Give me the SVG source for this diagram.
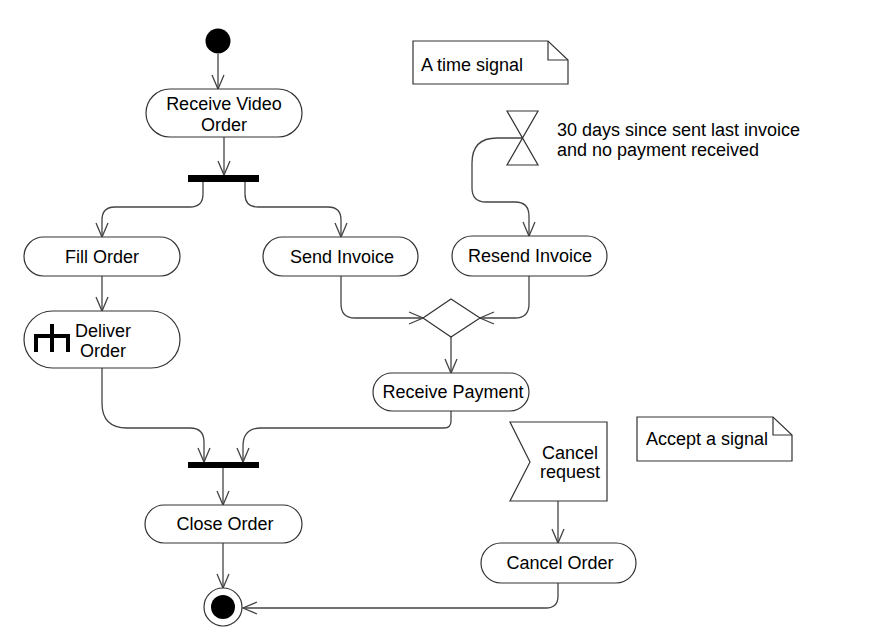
<svg xmlns="http://www.w3.org/2000/svg" width="875" height="633" viewBox="0 0 875 633">
<defs>
<marker id="arr" markerUnits="userSpaceOnUse" markerWidth="20" markerHeight="16" viewBox="-16 -8 18 16" refX="0" refY="0" orient="auto" overflow="visible">
<path d="M-14,-6 L0,0 L-14,6" fill="none" stroke="#444" stroke-width="1.3"/>
</marker>
<style>
.n{fill:#fff;stroke:#333;stroke-width:1.2}
.t{font-family:"Liberation Sans",Arial,sans-serif;font-size:18px;fill:#000}
.m{text-anchor:middle}
.c{fill:none;stroke:#444;stroke-width:1.3;marker-end:url(#arr)}
.bar{fill:#000}
</style>
</defs>
<rect width="875" height="633" fill="#fff"/>

<g id="connectors">
<path class="c" d="M218,54 V89"/>
<path class="c" d="M224,137 V175"/>
<path class="c" d="M203,182 V194 Q203,207 190,207 H115 Q102,207 102,220 V237"/>
<path class="c" d="M245,182 V194 Q245,207 258,207 H328 Q341,207 341,220 V237"/>
<path class="c" d="M522,138 H497 Q472,138 472,163 V188 Q472,202 486,202 H515 Q529,202 529,216 V236"/>
<path class="c" d="M102,276 V311"/>
<path class="c" d="M341,276 V304 Q341,318 355,318 H423"/>
<path class="c" d="M529,276 V304 Q529,318 515,318 H480"/>
<path class="c" d="M451,337 V373"/>
<path class="c" d="M102,368 V403 Q102,428 127,428 H190 Q204,428 204,442 V462"/>
<path class="c" d="M451,411 V421 Q451,428 444,428 H261 Q243,428 243,446 V462"/>
<path class="c" d="M223,468 V505"/>
<path class="c" d="M223,543 V588"/>
<path class="c" d="M558,501 V543"/>
<path class="c" d="M558,583 V596 Q558,608 546,608 H243"/>
</g>

<g id="initial">
<circle cx="218" cy="41" r="12.5" fill="#000"/>
</g>

<g id="receive-video-order">
<rect class="n" x="146" y="89" width="156" height="48" rx="24"/>
<text class="t m" x="224" y="110">Receive Video</text>
<text class="t m" x="224" y="131">Order</text>
</g>

<g id="fork">
<rect class="bar" x="188" y="175" width="71" height="7"/>
</g>

<g id="fill-order">
<rect class="n" x="24" y="237" width="156" height="39" rx="19.5"/>
<text class="t m" x="102" y="263">Fill Order</text>
</g>

<g id="send-invoice">
<rect class="n" x="263" y="237" width="155" height="39" rx="19.5"/>
<text class="t m" x="342" y="263">Send Invoice</text>
</g>

<g id="resend-invoice">
<rect class="n" x="452" y="236" width="155" height="40" rx="20"/>
<text class="t m" x="530" y="262">Resend Invoice</text>
</g>

<g id="time-signal-note">
<path class="n" d="M413,41 H548 L568,60 V84 H413 Z"/>
<path d="M548,41 V60 H568" fill="none" stroke="#333" stroke-width="1.2"/>
<text class="t" x="421" y="71">A time signal</text>
</g>

<g id="time-event">
<path d="M507,111 H538 L507,165 H538 Z" fill="#fff" stroke="#333" stroke-width="1.2"/>
<text class="t" x="557" y="136">30 days since sent last invoice</text>
<text class="t" x="557" y="156">and no payment received</text>
</g>

<g id="deliver-order">
<rect class="n" x="24" y="311" width="156" height="57" rx="28.5"/>
<path d="M36,352 V336 H68 V352 M52,324 V352" fill="none" stroke="#000" stroke-width="4"/>
<text class="t m" x="103" y="337">Deliver</text>
<text class="t m" x="103" y="357">Order</text>
</g>

<g id="merge">
<path class="n" d="M423,318 L451,299 L480,318 L451,337 Z"/>
</g>

<g id="receive-payment">
<rect class="n" x="373" y="373" width="156" height="38" rx="19"/>
<text class="t m" x="453" y="398">Receive Payment</text>
</g>

<g id="join">
<rect class="bar" x="188" y="462" width="71" height="6"/>
</g>

<g id="close-order">
<rect class="n" x="145" y="505" width="157" height="38" rx="19"/>
<text class="t m" x="225" y="530">Close Order</text>
</g>

<g id="final">
<circle cx="223" cy="607" r="19" fill="#fff" stroke="#333" stroke-width="1.2"/>
<circle cx="223" cy="607" r="12" fill="#000"/>
</g>

<g id="cancel-request">
<path class="n" d="M510,422 H607 V501 H510 L530,462 Z"/>
<text class="t m" x="570" y="459">Cancel</text>
<text class="t m" x="570" y="478">request</text>
</g>

<g id="accept-signal-note">
<path class="n" d="M637,417 H773 L792,435 V461 H637 Z"/>
<path d="M773,417 V435 H792" fill="none" stroke="#333" stroke-width="1.2"/>
<text class="t" x="646" y="445">Accept a signal</text>
</g>

<g id="cancel-order">
<rect class="n" x="481" y="543" width="155" height="40" rx="20"/>
<text class="t m" x="560" y="569">Cancel Order</text>
</g>
</svg>
